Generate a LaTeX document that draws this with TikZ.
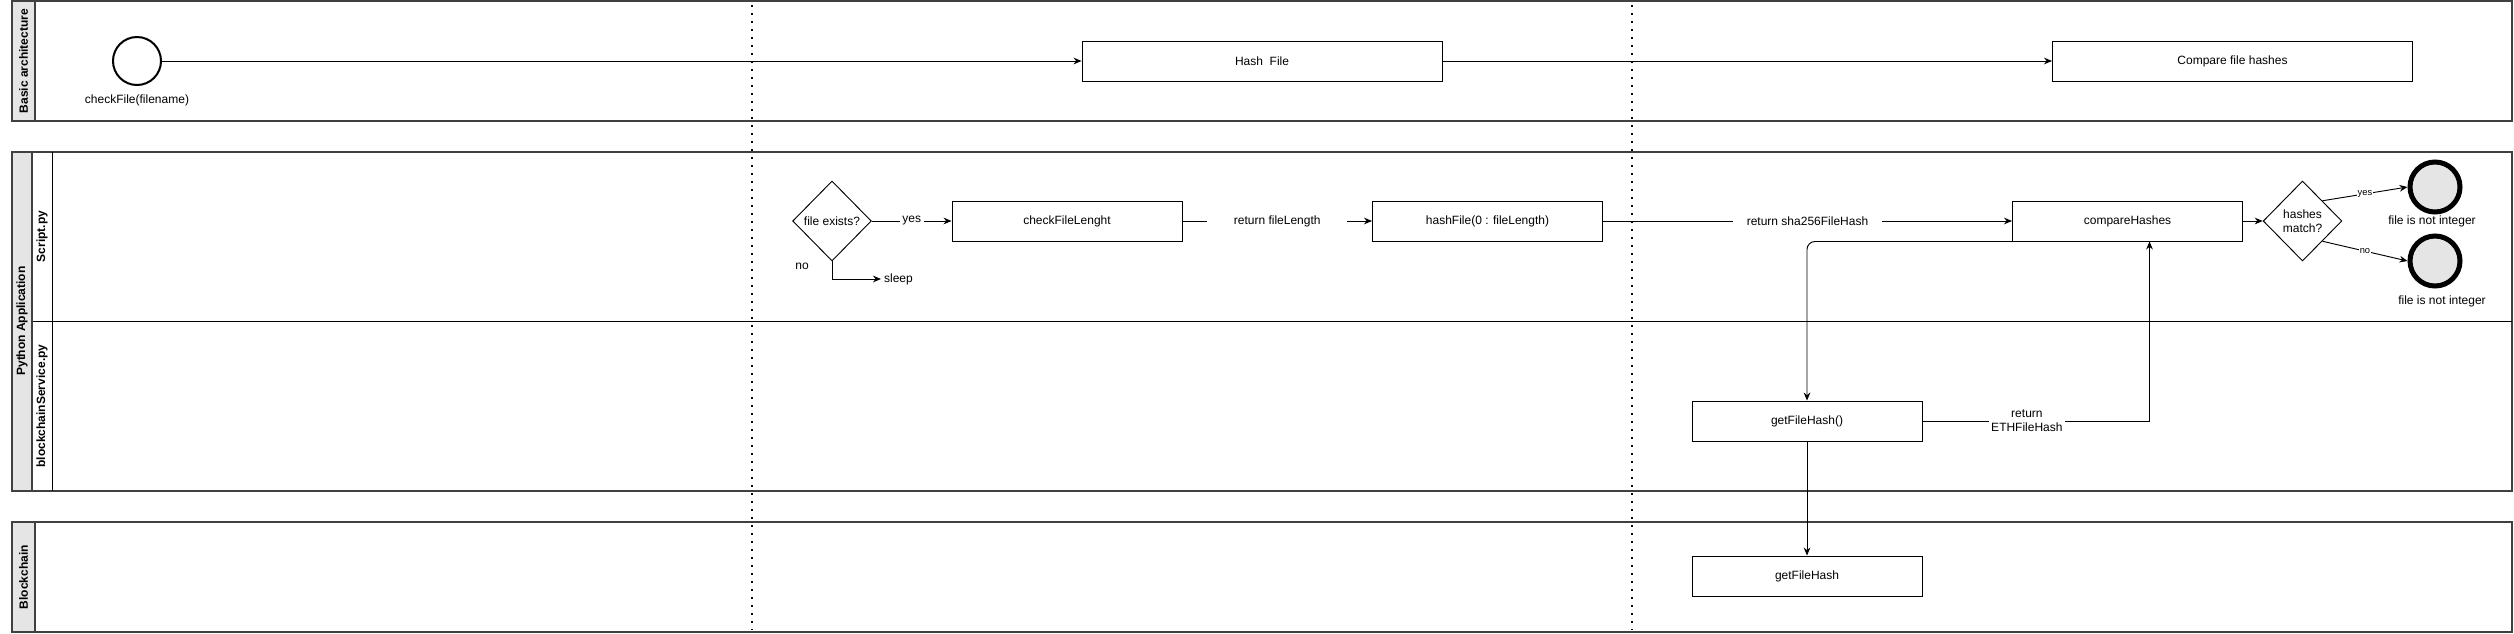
\documentclass[tikz,border=0pt]{standalone}
\usepackage{fontspec}
\setmainfont{Liberation Sans}
\usetikzlibrary{arrows.meta,shapes.geometric,positioning}

\begin{document}
\begin{tikzpicture}[x=0.75pt,y=-0.75pt,>={Stealth[length=6pt,width=5pt]},
    font=\fontsize{9}{10.5}\selectfont,line width=0.7pt]
  \tikzstyle{pool}=[draw=black!75,line width=1.6pt]
  \tikzstyle{poolhead}=[draw=black!75,line width=1.6pt,fill=black!10]
  \tikzstyle{lanetitle}=[rotate=90,font=\fontsize{9}{10.5}\selectfont\bfseries]
  \tikzstyle{activity}=[draw,rectangle,minimum width=172.5pt,minimum height=30pt]
  \tikzstyle{decision}=[draw,diamond,inner sep=0pt,minimum width=59pt,minimum height=60pt,align=center]
  \tikzstyle{start}=[draw,circle,minimum size=36pt,line width=1.5pt]
  \tikzstyle{stop}=[draw,circle,fill=black!10,minimum size=37.5pt,line width=3.75pt]
  \tikzstyle{lbl}=[fill=white,inner sep=2pt]

  \useasboundingbox (0,0) rectangle (2514,633);

  % swimlanes
  \draw[pool] (12,1) rectangle (2512,121);
  \draw[poolhead] (12,1) rectangle (35,121);
  \node[lanetitle] (tbasic) at (23.5,61) {Basic architecture};

  \draw[pool] (12,152) rectangle (2512,491);
  \draw (32,321) -- (2512,321);
  \draw (52,152) -- (52,491);
  \draw[poolhead] (12,152) rectangle (32,491);
  \node[lanetitle] (tpy) at (22,321) {Python Application};
  \node[lanetitle] (tscript) at (42,236.5) {Script.py};
  \node[lanetitle] (tbcs) at (42,406) {blockchainService.py};

  \draw[pool] (12,522) rectangle (2512,632);
  \draw[poolhead] (12,522) rectangle (35,632);
  \node[lanetitle] (tbc) at (23.5,577) {Blockchain};

  % phase separators
  \foreach \x in {752,1632}
    \draw[line width=1.2pt,dash pattern=on 1.2pt off 4.8pt] (\x,5) -- (\x,630);

  % basic architecture
  \node[start] (st) at (137,61) {};
  \node (stl) at (137,100) {checkFile(filename)};
  \node[activity,minimum width=270pt] (hash) at (1262,61) {Hash\ \ File};
  \node[activity,minimum width=270pt] (cmpf) at (2232.5,61) {Compare file hashes};

  % script.py
  \node[decision] (fe) at (832,221) {file exists?};
  \node (no) at (802,266) {no};
  \node[anchor=west,inner sep=2pt] (sl) at (881,279) {sleep};
  \node[activity] (cfl) at (1067,221) {checkFileLenght};
  \node[activity] (hf) at (1487.5,221) {hashFile(0 : fileLength)};
  \node[activity] (ch) at (2127.5,221) {compareHashes};
  \node[decision] (hm) at (2302.5,221) {hashes\\match?};
  \node[stop] (e1) at (2435,187) {};
  \node[stop] (e2) at (2435,261) {};
  \node (e1l) at (2432,221) {file is not integer};
  \node (e2l) at (2442,301) {file is not integer};

  % blockchainService.py and blockchain
  \node[activity] (gfh) at (1807,421) {getFileHash()};
  \node[activity] (gf) at (1807,576) {getFileHash};

  \path[->]
  (st)  edge (hash)
  (hash) edge (cmpf)
  (fe)  edge node[lbl] {yes} (cfl)
  (cfl) edge node[lbl,inner xsep=20pt] {return fileLength} (hf)
  (hf)  edge node[lbl,inner xsep=10pt] {return sha256FileHash} (ch)
  (ch)  edge (hm)
  (hm.north east) edge node[lbl,inner sep=0.5pt,font=\fontsize{7}{8}\selectfont] {yes} (e1.west)
  (hm.south east) edge node[lbl,inner sep=0.5pt,font=\fontsize{7}{8}\selectfont] {no} (e2.west)
  (gfh) edge (gf);

  \draw[->] (fe.south) |- (sl.west);
  \draw[->,rounded corners=6pt] (ch.south west) -| (gfh.north);
  \draw[->] (gfh.east) -| node[lbl,pos=0.23,align=center] {return\\ETHFileHash} ([xshift=16.5pt]ch.south);
\end{tikzpicture}
\end{document}
